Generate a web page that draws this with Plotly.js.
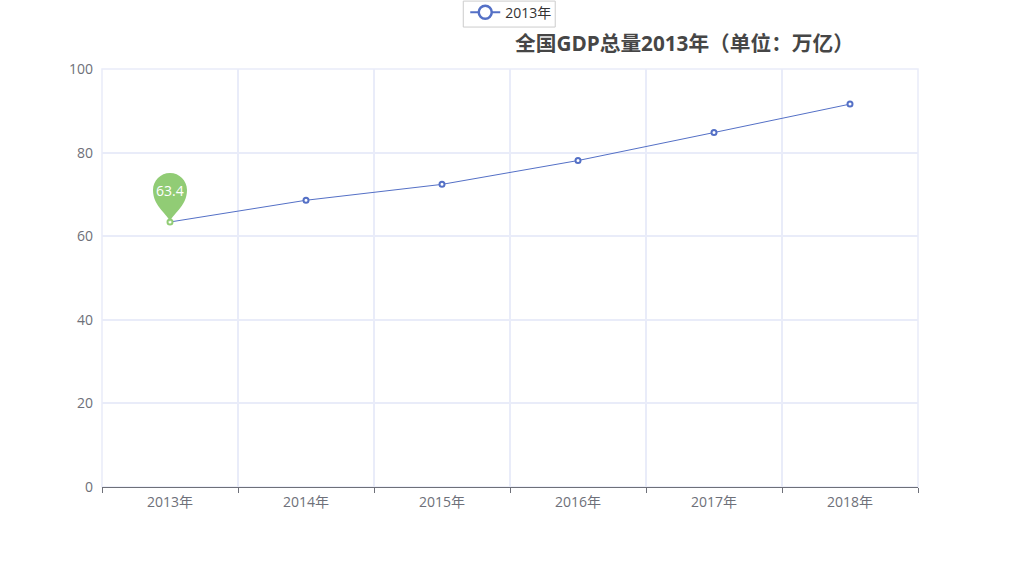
<!DOCTYPE html>
<html><head><meta charset="utf-8">
<script src="https://cdn.plot.ly/plotly-3.0.1.min.js"></script>
<style>html,body{margin:0;padding:0;background:#fff}</style></head>
<body><div id="chart" style="width:1019px;height:566px"></div>
<script>
const categories = ["2013年","2014年","2015年","2016年","2017年","2018年"];
const gdp = [63.4,68.6,72.4,78.1,84.8,91.6];
const seriesName = "2013年";
const chartTitle = "全国GDP总量2013年（单位：万亿）";
const pinLabel = "63.4";
const FONT = '"Open Sans","Noto Sans CJK SC",sans-serif';
const BLUE = "#5470c6", GREEN = "#91cc75", GRID = "#e9ecf9";
const pinPath = "M0,0 C-1,7 -17,15 -17,32 C-17,41.4 -9.4,49 0,49 C9.4,49 17,41.4 17,32 C17,15 1,7 0,0 Z";
const markerLines = categories.map((c,i)=> i===0 ? GREEN : BLUE);
const W = 1019, H = 566, L = 102, R = 100.5, T = 68.5, B = 79;
const px = v => (v - L) / (W - L - R), py = v => 1 - (v - T) / (H - T - B);
const data = [
 {type:"scatter",mode:"lines+markers",x:categories,y:gdp,showlegend:false,
  line:{color:BLUE,width:1},
  marker:{symbol:"circle",size:5,color:"#fff",line:{color:markerLines,width:2}},hoverinfo:"x+y"},
 {type:"scatter",mode:"lines+markers",x:[categories[0]],y:[null],name:seriesName,
  line:{color:BLUE,width:2},
  marker:{symbol:"circle",size:13,color:"#fff",line:{color:BLUE,width:2.5}}}
];
const layout = {
 width:W,height:H,paper_bgcolor:"#fff",plot_bgcolor:"#fff",
 margin:{l:L,r:R,t:T,b:B,autoexpand:false},
 font:{family:FONT,color:"#6e7079",size:14},
 title:{text:chartTitle,font:{family:FONT,size:20.7,color:"#464646",weight:"bold"},
  xref:"container",yref:"container",x:684.5/W,xanchor:"center",y:0.922,yanchor:"middle"},
 showlegend:true,
 legend:{x:px(511.5),xref:"paper",xanchor:"center",y:py(-4),yref:"paper",yanchor:"top",
  orientation:"h",borderwidth:0,bgcolor:"rgba(0,0,0,0)",
  font:{family:FONT,size:14,color:"#333"},itemwidth:30},
 xaxis:{type:"category",categoryorder:"array",categoryarray:categories,tickson:"boundaries",
  range:[-0.5,5.5],showgrid:true,gridcolor:GRID,gridwidth:1.5,
  showline:true,linecolor:"#6e7079",linewidth:1,ticks:"outside",ticklen:5,tickcolor:"#6e7079",ticklabelstandoff:2,
  tickfont:{family:FONT,size:14,color:"#6e7079"},zeroline:false,automargin:false},
 yaxis:{range:[0,100],tick0:0,dtick:20,showgrid:true,gridcolor:GRID,gridwidth:1.5,
  showline:false,ticks:"",zeroline:false,ticklabelstandoff:8,
  tickfont:{family:FONT,size:14,color:"#6e7079"},automargin:false},
 shapes:[
  {type:"rect",xref:"paper",yref:"paper",x0:0,x1:1,y0:0,y1:1,line:{color:GRID,width:1.5},fillcolor:"rgba(0,0,0,0)",layer:"below"},
  {type:"path",xref:"x",yref:"y",xsizemode:"pixel",ysizemode:"pixel",
   xanchor:categories[0],yanchor:gdp[0],path:pinPath,fillcolor:GREEN,line:{width:0},layer:"above"},
  {type:"rect",xref:"paper",yref:"paper",x0:px(463.5),x1:px(555.5),y0:py(26.5),y1:py(0.5),
   line:{color:"#cccccc",width:1},fillcolor:"rgba(0,0,0,0)"}
 ],
 annotations:[{x:categories[0],y:gdp[0],xref:"x",yref:"y",text:pinLabel,showarrow:false,
  xanchor:"center",yanchor:"middle",yshift:31,font:{family:FONT,size:14,color:"#fff"}}]
};
Plotly.newPlot("chart",data,layout,{displayModeBar:false});
</script></body></html>
